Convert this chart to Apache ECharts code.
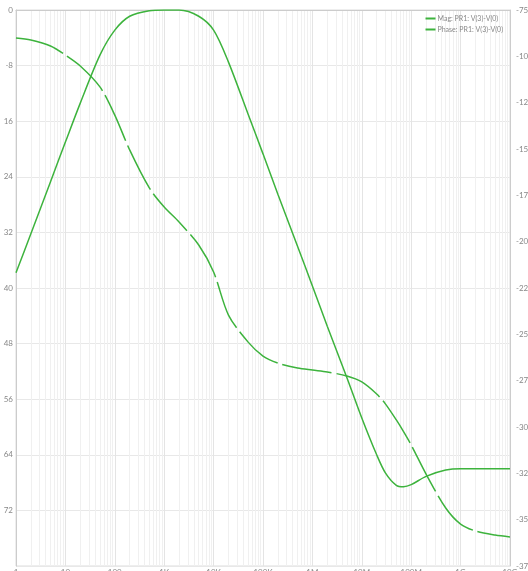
<!DOCTYPE html>
<html><head><meta charset="utf-8">
<script src="https://cdn.jsdelivr.net/npm/echarts@6/dist/echarts.min.js"></script>
<style>html,body{margin:0;padding:0;background:#fff}#c{width:528px;height:571px}</style>
</head><body><div id="c"></div>
<script>
const freqs = [1,2,5,10,20,50,100,200,500,1e3,2e3,5e3,1e4,2e4,5e4,1e5,2e5,5e5,1e6,2e6,5e6,1e7,2e7,3e7,5e7,7e7,1e8,2e8,5e8,1e9,2e9,5e9,1e10];
const magDb = [-37.8,-32.2,-24.7,-19.0,-13.4,-6.5,-2.9,-0.9,-0.1,0.0,0.0,-0.9,-2.9,-7.5,-15.0,-20.7,-26.5,-34.0,-39.7,-45.5,-52.9,-58.7,-64.0,-66.6,-68.4,-68.6,-68.3,-67.1,-66.2,-66.0,-66.0,-66.0,-66.0];
const phaseDeg = [-90.1,-91.2,-94.4,-99.3,-105.2,-116.5,-131.7,-150.5,-171.0,-181.3,-189.4,-201.8,-216.4,-239.6,-254.2,-261.7,-265.5,-268.2,-269.3,-270.3,-272.5,-275.7,-282.2,-287.5,-296.2,-302.5,-309.7,-325.4,-343.7,-352.4,-356.1,-358.3,-359.3];
const xTickLabels = {1:'1',10:'10',100:'100',1000:'1K',10000:'10K',100000:'100K',1000000:'1M',10000000:'10M',100000000:'100M',1000000000:'1G',10000000000:'10G'};
const leftTickLabels = {'0':'0','-8':'-8','-16':'16','-24':'24','-32':'32','-40':'40','-48':'48','-56':'56','-64':'64','-72':'72','-80':''};
const seriesNames = ['Mag: PR1: V(3)-V(0)','Phase: PR1: V(3)-V(0)'];

const minorLines = [];
for (let k = 0; k < 10; k++) for (let m = 2; m <= 9; m++) minorLines.push({xAxis: m * Math.pow(10, k)});

const green = '#3db33d';
const font = 'Lato';
const chart = echarts.init(document.getElementById('c'));
chart.setOption({
  animation: false,
  backgroundColor: '#fff',
  textStyle: {fontFamily: font},
  grid: {left: 16, right: 18, top: 10, bottom: 5, show: true, borderColor: '#ddd', borderWidth: 1, outerBoundsMode: 'none', containLabel: false},
  legend: {
    right: 20, top: 10, orient: 'vertical', itemGap: 4, itemWidth: 10, itemHeight: 2,
    textStyle: {fontSize: 7, color: '#888', fontFamily: font, padding: [0,0,0,-3]},
    data: [{name: seriesNames[0], icon: 'rect'}, {name: seriesNames[1], icon: 'rect'}]
  },
  xAxis: {
    type: 'log', logBase: 10, min: 1, max: 1e10, splitNumber: 10, interval: 1,
    axisLine: {show: true, lineStyle: {color: '#ccc'}},
    axisTick: {show: false},
    axisLabel: {fontSize: 8, color: '#888', margin: 2, showMinLabel: true, showMaxLabel: true, hideOverlap: false,
      formatter: v => xTickLabels[Math.round(v)] || ''},
    splitLine: {show: true, lineStyle: {color: '#e4e4e4', width: 1}}
  },
  yAxis: [
    {type: 'value', min: -80, max: 0, interval: 8, position: 'left',
     axisLine: {show: true, lineStyle: {color: '#ccc'}}, axisTick: {show: false},
     axisLabel: {fontSize: 8, color: '#888', margin: 3, formatter: v => leftTickLabels[String(v)] ?? String(v)},
     splitLine: {show: true, lineStyle: {color: '#e8e8e8'}}},
    {type: 'value', min: -375, max: -75, interval: 25, position: 'right',
     axisLine: {show: true, lineStyle: {color: '#ccc'}}, axisTick: {show: false},
     axisLabel: {fontSize: 8, color: '#888', margin: 6},
     splitLine: {show: false}}
  ],
  series: [
    {type: 'line', name: 'grid', data: [], silent: true, z: 0,
     markLine: {silent: true, symbol: 'none', label: {show: false}, z: 0,
       lineStyle: {color: '#f0f0f0', type: 'solid', width: 1}, emphasis: {disabled: true}, data: minorLines}},
    {type: 'line', name: seriesNames[0], yAxisIndex: 0, z: 5, showSymbol: false, smooth: 0.3,
     itemStyle: {color: green}, lineStyle: {color: green, width: 1.5, type: 'solid'},
     data: freqs.map((f, i) => [f, magDb[i]])},
    {type: 'line', name: seriesNames[1], yAxisIndex: 1, z: 5, showSymbol: false, smooth: 0.3,
     itemStyle: {color: green}, lineStyle: {color: green, width: 1.5, type: [50, 5]},
     data: freqs.map((f, i) => [f, phaseDeg[i]])}
  ]
});
</script></body></html>
